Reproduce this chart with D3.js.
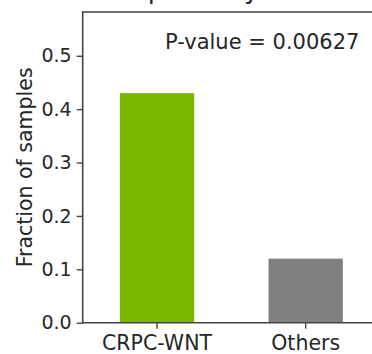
<!DOCTYPE html>
<html>
<head>
<meta charset="utf-8">
<script src="https://cdn.jsdelivr.net/npm/d3@7"></script>
<style>
  html, body { margin: 0; padding: 0; background: #fff; }
  svg { display: block; font-family: "DejaVu Sans", sans-serif; }
</style>
</head>
<body>
<div id="chart"></div>
<script>
// ---- data ----
const categories = ["CRPC-WNT", "Others"];
const fractions = [0.43, 0.12];
const barColors = ["#7ab800", "#808080"];
const yTicks = [0.0, 0.1, 0.2, 0.3, 0.4, 0.5];
const yMax = 0.582;
const titleText = "WNT pathway alteration";
const annotation = "P-value = 0.00627";
const yLabel = "Fraction of samples";

// ---- layout ----
const W = 372, H = 354;
const plot = { left: 82.7, right: 380, top: 12, bottom: 322.7 };
const textColor = "#262626";
const spineColor = "#444";

const svg = d3.select("#chart").append("svg")
  .attr("width", W).attr("height", H);

const x = d3.scaleBand()
  .domain(categories)
  .range([plot.left, plot.right])
  .paddingInner(0.5)
  .paddingOuter(0.25);

const y = d3.scaleLinear()
  .domain([0, yMax])
  .range([plot.bottom, plot.top]);

// title (cut off at the top in the reference)
svg.append("text")
  .attr("x", 236)
  .attr("y", -2)
  .attr("text-anchor", "middle")
  .attr("font-size", 26)
  .attr("fill", textColor)
  .text(titleText);

// bars
svg.selectAll("rect.bar")
  .data(categories)
  .join("rect")
  .attr("class", "bar")
  .attr("x", d => x(d))
  .attr("width", x.bandwidth())
  .attr("y", (d, i) => y(fractions[i]))
  .attr("height", (d, i) => y(0) - y(fractions[i]))
  .attr("fill", (d, i) => barColors[i]);

// y axis
const yAxis = d3.axisLeft(y)
  .tickValues(yTicks)
  .tickFormat(d3.format(".1f"))
  .tickSize(6)
  .tickPadding(5);
const gy = svg.append("g")
  .attr("transform", `translate(${plot.left},0)`)
  .call(yAxis);
gy.select(".domain").remove();
gy.selectAll(".tick line").attr("stroke", spineColor).attr("stroke-width", 1.4);
gy.selectAll(".tick text")
  .attr("fill", textColor)
  .attr("font-size", 19)
  .attr("font-family", "DejaVu Sans");

// x axis
const xAxis = d3.axisBottom(x).tickSize(6).tickPadding(6.5);
const gx = svg.append("g")
  .attr("transform", `translate(0,${plot.bottom})`)
  .call(xAxis);
gx.select(".domain").remove();
gx.selectAll(".tick line").attr("stroke", spineColor).attr("stroke-width", 1.4);
gx.selectAll(".tick text")
  .attr("fill", textColor)
  .attr("font-size", 20.5)
  .attr("font-family", "DejaVu Sans");

// spines: left, bottom, top (right is beyond the picture)
const spines = [
  [plot.left, plot.top, plot.left, plot.bottom],
  [plot.left, plot.bottom, plot.right, plot.bottom],
  [plot.left, plot.top, plot.right, plot.top]
];
svg.selectAll("line.spine")
  .data(spines)
  .join("line")
  .attr("class", "spine")
  .attr("x1", d => d[0]).attr("y1", d => d[1])
  .attr("x2", d => d[2]).attr("y2", d => d[3])
  .attr("stroke", spineColor)
  .attr("stroke-width", 1.6)
  .attr("stroke-linecap", "square");

// y label
svg.append("text")
  .attr("transform", `translate(32,${(plot.top + plot.bottom) / 2}) rotate(-90)`)
  .attr("text-anchor", "middle")
  .attr("font-size", 20.5)
  .attr("fill", textColor)
  .text(yLabel);

// annotation
svg.append("text")
  .attr("x", 165)
  .attr("y", 49)
  .attr("font-size", 21)
  .attr("fill", textColor)
  .text(annotation);
</script>
</body>
</html>
